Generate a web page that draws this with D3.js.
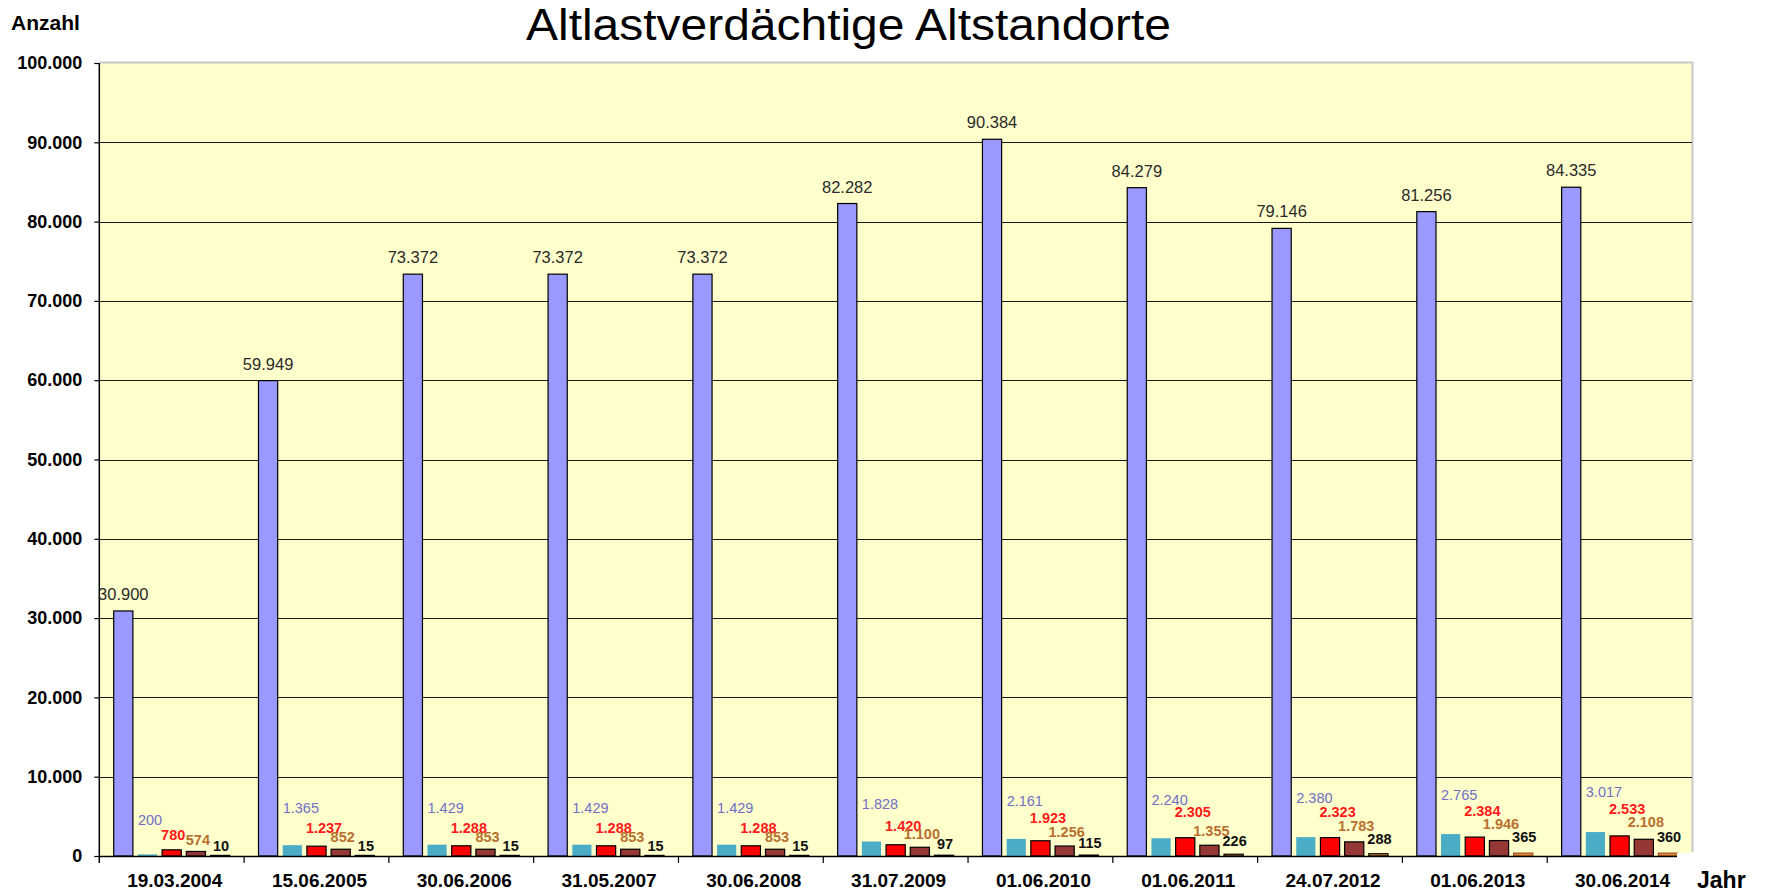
<!DOCTYPE html>
<html>
<head>
<meta charset="utf-8">
<script src="https://cdn.jsdelivr.net/npm/d3@7"></script>
<style>
  html, body { margin: 0; padding: 0; background: #ffffff; }
  svg { display: block; font-family: "Liberation Sans", Arial, sans-serif; }
</style>
</head>
<body>
<svg id="chart" width="1765" height="891"></svg>
<script>
// ---------------- data ----------------
const dates = ["19.03.2004","15.06.2005","30.06.2006","31.05.2007","30.06.2008","31.07.2009","01.06.2010","01.06.2011","24.07.2012","01.06.2013","30.06.2014"];
const seriesA = [30900, 59949, 73372, 73372, 73372, 82282, 90384, 84279, 79146, 81256, 84335];
const seriesB = [200, 1365, 1429, 1429, 1429, 1828, 2161, 2240, 2380, 2765, 3017];
const seriesC = [780, 1237, 1288, 1288, 1288, 1420, 1923, 2305, 2323, 2384, 2533];
const seriesD = [574, 852, 853, 853, 853, 1100, 1256, 1355, 1783, 1946, 2108];
const seriesE = [10, 15, 15, 15, 15, 97, 115, 226, 288, 365, 360];
const yTicks = [0, 10000, 20000, 30000, 40000, 50000, 60000, 70000, 80000, 90000, 100000];
const titleText = "Altlastverdächtige Altstandorte";
const yTitle = "Anzahl";
const xTitle = "Jahr";

// ---------------- setup ----------------
const seriesKeys = ["A","B","C","D","E"];
const seriesData = {A: seriesA, B: seriesB, C: seriesC, D: seriesD, E: seriesE};

const de = d3.formatLocale({decimal: ",", thousands: ".", grouping: [3], currency: ["", " €"]});
const fmt = de.format(",d");

const svg = d3.select("#chart");
const L = 99.3, R = 1692, T = 63, B = 856;

const x0 = d3.scaleBand().domain(dates).range([L, R]).paddingInner(0).paddingOuter(0);
const x1 = d3.scaleBand().domain(seriesKeys).range([0, x0.bandwidth()]).paddingInner(0.207).paddingOuter(0.595);
const y = d3.scaleLinear().domain([0, 100000]).range([B, T]);

// plot background
svg.append("rect").attr("x", L).attr("y", T).attr("width", R - L).attr("height", B - T)
  .attr("fill", "#FFFFCC");
// top & right border (gray)
svg.append("line").attr("x1", L).attr("x2", R + 1).attr("y1", T - 0.5).attr("y2", T - 0.5)
  .attr("stroke", "#C8C8C8").attr("stroke-width", 2);
svg.append("line").attr("x1", R + 0.5).attr("x2", R + 0.5).attr("y1", T - 1).attr("y2", B - 4)
  .attr("stroke", "#C8C8C8").attr("stroke-width", 2);

// gridlines
svg.append("g").selectAll("line").data(yTicks.filter(t => t > 0 && t < 100000)).join("line")
  .attr("x1", L).attr("x2", R).attr("y1", d => Math.round(y(d)) + 0.5).attr("y2", d => Math.round(y(d)) + 0.5)
  .attr("stroke", "#1a1a1a").attr("stroke-width", 1.2);

// y axis
const yAxis = d3.axisLeft(y).tickValues(yTicks).tickSize(5).tickFormat(fmt).tickPadding(12);
const gy = svg.append("g").attr("transform", `translate(${L},0)`).call(yAxis);
gy.select(".domain").remove();
gy.selectAll(".tick line").attr("stroke", "#000").attr("stroke-width", 1.2);
gy.selectAll(".tick text").attr("font-size", 18).attr("font-weight", "bold")
  .attr("fill", "#000").attr("font-family", "'Liberation Sans', Arial, sans-serif");
svg.append("line").attr("x1", L).attr("x2", L).attr("y1", T).attr("y2", B + 7)
  .attr("stroke", "#000").attr("stroke-width", 1.5);

// bars
const groups = svg.append("g").selectAll("g").data(dates).join("g")
  .attr("transform", d => `translate(${x0(d)},0)`);

const styles = {
  A: {fill: "#9999FF", stroke: "#000", sw: 1.2},
  B: {fill: "#4BACC6", stroke: "none", sw: 0},
  C: {fill: "#FF0000", stroke: "#000", sw: 1.2},
  D: {fill: "#953735", stroke: "#000", sw: 1.2},
  E: {fill: "#E8893A", stroke: "#000", sw: 1.2}
};

groups.each(function(date, i) {
  const g = d3.select(this);
  seriesKeys.forEach(k => {
    const v = seriesData[k][i];
    const st = styles[k];
    const h = Math.max(B - y(v), 0.6);
    let stroke = st.stroke;
    if (k === "E" && v > 300) stroke = "#9A5220";
    g.append("rect")
      .attr("x", x1(k))
      .attr("y", B - h)
      .attr("width", x1.bandwidth())
      .attr("height", h)
      .attr("fill", st.fill)
      .attr("stroke", stroke)
      .attr("stroke-width", st.sw);
  });
});

// x axis line + ticks
svg.append("line").attr("x1", L).attr("x2", 1677).attr("y1", B + 0.5).attr("y2", B + 0.5)
  .attr("stroke", "#000").attr("stroke-width", 1.5);
svg.append("g").selectAll("line").data(dates.slice(1)).join("line")
  .attr("x1", d => x0(d)).attr("x2", d => x0(d)).attr("y1", B).attr("y2", B + 7)
  .attr("stroke", "#000").attr("stroke-width", 1.2);
// small white notch at bottom-right of plot (as in the original)
svg.append("rect").attr("x", 1677).attr("y", B - 3).attr("width", 18).attr("height", 8).attr("fill", "#fff");

// x tick labels
svg.append("g").selectAll("text").data(dates).join("text")
  .attr("x", d => x0(d) + x0.bandwidth() / 2 + 3)
  .attr("y", 887)
  .attr("text-anchor", "middle")
  .attr("font-size", 19).attr("font-weight", "bold").attr("fill", "#000")
  .text(d => d);

// value labels
const labels = svg.append("g");
dates.forEach((date, i) => {
  const gx = x0(date);
  // series A
  const vA = seriesA[i];
  labels.append("text")
    .attr("x", gx + x1("A") + x1.bandwidth() / 2)
    .attr("y", y(vA) - 11)
    .attr("text-anchor", "middle")
    .attr("font-size", 16.5).attr("fill", "#2a2a2a")
    .text(fmt(vA));
  // series B
  const vB = seriesB[i];
  labels.append("text")
    .attr("x", gx + x1("B"))
    .attr("y", y(vB * 1.25) - 29)
    .attr("text-anchor", "start")
    .attr("font-size", 14.5).attr("fill", "#6F6FC8")
    .text(fmt(vB));
  // series C
  const vC = seriesC[i];
  labels.append("text")
    .attr("x", gx + x1("C") - 1)
    .attr("y", y(vC * 1.9) - 4)
    .attr("text-anchor", "start")
    .attr("font-size", 14.5).attr("font-weight", "bold").attr("fill", "#FF1A1A")
    .text(fmt(vC));
  // series D
  const vD = seriesD[i];
  labels.append("text")
    .attr("x", gx + x1("D") + x1.bandwidth() / 2 + 2)
    .attr("y", y(vD * 1.5) - 4)
    .attr("text-anchor", "middle")
    .attr("font-size", 14.5).attr("font-weight", "bold").attr("fill", "#B8702F")
    .text(fmt(vD));
  // series E
  const vE = seriesE[i];
  labels.append("text")
    .attr("x", gx + x1("E") + x1.bandwidth() / 2 + 1)
    .attr("y", y(vE * 3) - 5)
    .attr("text-anchor", "middle")
    .attr("font-size", 14.5).attr("font-weight", "bold").attr("fill", "#111")
    .text(fmt(vE));
});

// titles
svg.append("text").attr("x", 526).attr("y", 40)
  .attr("font-family", "'Liberation Sans Narrow', 'Liberation Sans', Arial, sans-serif")
  .attr("font-size", 44).attr("fill", "#000")
  .attr("textLength", 645).attr("lengthAdjust", "spacingAndGlyphs")
  .text(titleText);
svg.append("text").attr("x", 11).attr("y", 30)
  .attr("font-size", 21).attr("font-weight", "bold").attr("fill", "#000")
  .text(yTitle);
svg.append("text").attr("x", 1697).attr("y", 888)
  .attr("font-size", 23).attr("font-weight", "bold").attr("fill", "#000")
  .text(xTitle);
</script>
</body>
</html>
